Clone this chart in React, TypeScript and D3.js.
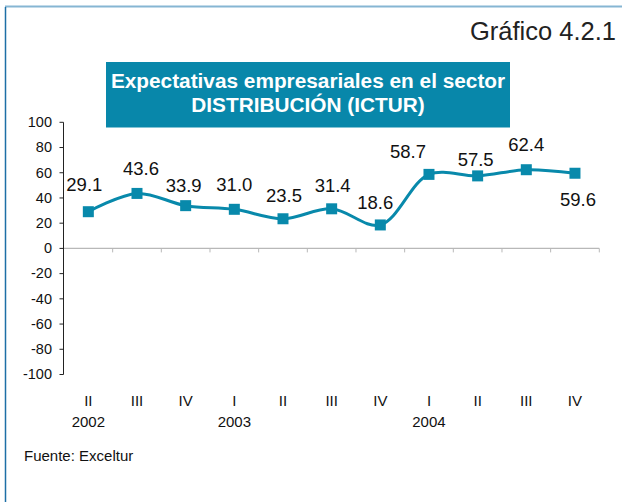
import React from "react";
import * as d3 from "d3";

const quarters = ["II", "III", "IV", "I", "II", "III", "IV", "I", "II", "III", "IV"];
const years = ["2002", "", "", "2003", "", "", "", "2004", "", "", ""];
const values = [29.1, 43.6, 33.9, 31.0, 23.5, 31.4, 18.6, 58.7, 57.5, 62.4, 59.6];
const yTicks = [100, 80, 60, 40, 20, 0, -20, -40, -60, -80, -100];
// label placement relative to each point (dx, baseline dy)
const labelDx = [-4, 4, -2, 0, 1, 1, -5, -21, -2, 0, 3];
const labelDy = [-21, -18, -14, -18, -17, -17, -16, -16, -10, -19, 33];

const W = 622;
const H = 502;
const COLOR = "#0889ab";
const FONT = "'Liberation Sans', Arial, Helvetica, sans-serif";

export default function App() {
  const x = d3.scaleBand<number>().domain(d3.range(values.length)).range([64, 599.3]);
  const y = d3.scaleLinear().domain([-100, 100]).range([374.5, 122.3]);
  const cx = (i: number) => (x(i) as number) + x.bandwidth() / 2;
  const line = d3
    .line<number>()
    .x((_, i) => cx(i))
    .y((d) => y(d))
    .curve(d3.curveCatmullRom.alpha(0.5));
  const axisX = 63.5;
  const boundaries = [...d3.range(values.length).map((i) => x(i) as number), x.range()[1]];

  return (
    <svg
      width={W}
      height={H}
      style={{ position: "absolute", left: 0, top: 0, background: "#fff" }}
      fontFamily={FONT}
    >
      {/* frame */}
      <line x1={5} x2={W} y1={6.5} y2={6.5} stroke="#86b6d3" strokeWidth={2} />
      <line x1={5.5} x2={5.5} y1={7} y2={H} stroke="#1d6fa6" strokeWidth={1.5} />

      {/* heading */}
      <text x={616} y={40} textAnchor="end" fontSize={25.5} fill="#222">
        Gráfico 4.2.1
      </text>
      <rect x={106} y={62} width={404} height={65.5} fill="#0887aa" />
      <text x={308} y={88} textAnchor="middle" fontSize={20.8} fontWeight="bold" fill="#fff">
        Expectativas empresariales en el sector
      </text>
      <text x={308} y={111.5} textAnchor="middle" fontSize={20.8} fontWeight="bold" fill="#fff">
        DISTRIBUCIÓN (ICTUR)
      </text>

      {/* zero line with category ticks */}
      <line x1={axisX} x2={x.range()[1]} y1={y(0)} y2={y(0)} stroke="#b8b8b8" strokeWidth={1.2} />
      {boundaries.slice(1).map((b, i) => (
        <line key={"xt" + i} x1={b} x2={b} y1={y(0)} y2={y(0) + 4} stroke="#b8b8b8" strokeWidth={1} />
      ))}

      {/* y axis */}
      <line x1={axisX} x2={axisX} y1={y(100)} y2={y(-100)} stroke="#222" strokeWidth={1} />
      {yTicks.map((t) => (
        <g key={"yt" + t}>
          <line x1={axisX - 4} x2={axisX} y1={y(t)} y2={y(t)} stroke="#222" strokeWidth={1} />
          <text
            x={52}
            y={y(t)}
            dy="0.33em"
            textAnchor="end"
            fontSize={14.5}
            fill="#111"
          >
            {t}
          </text>
        </g>
      ))}

      {/* x labels */}
      {quarters.map((q, i) => (
        <text key={"q" + i} x={cx(i)} y={406} textAnchor="middle" fontSize={15} fill="#111">
          {q}
        </text>
      ))}
      {years.map((yr, i) =>
        yr ? (
          <text key={"y" + i} x={cx(i)} y={426.5} textAnchor="middle" fontSize={15} fill="#111">
            {yr}
          </text>
        ) : null
      )}

      {/* series */}
      <path d={line(values) || ""} fill="none" stroke={COLOR} strokeWidth={3} />
      {values.map((v, i) => (
        <rect key={"m" + i} x={cx(i) - 5.5} y={y(v) - 5.5} width={11} height={11} fill={COLOR} />
      ))}
      {values.map((v, i) => (
        <text
          key={"l" + i}
          x={cx(i) + labelDx[i]}
          y={y(v) + labelDy[i]}
          textAnchor="middle"
          fontSize={18.5}
          fill="#111"
        >
          {v.toFixed(1)}
        </text>
      ))}

      <text x={24} y={460.5} fontSize={15} fill="#111">
        Fuente: Exceltur
      </text>
    </svg>
  );
}
